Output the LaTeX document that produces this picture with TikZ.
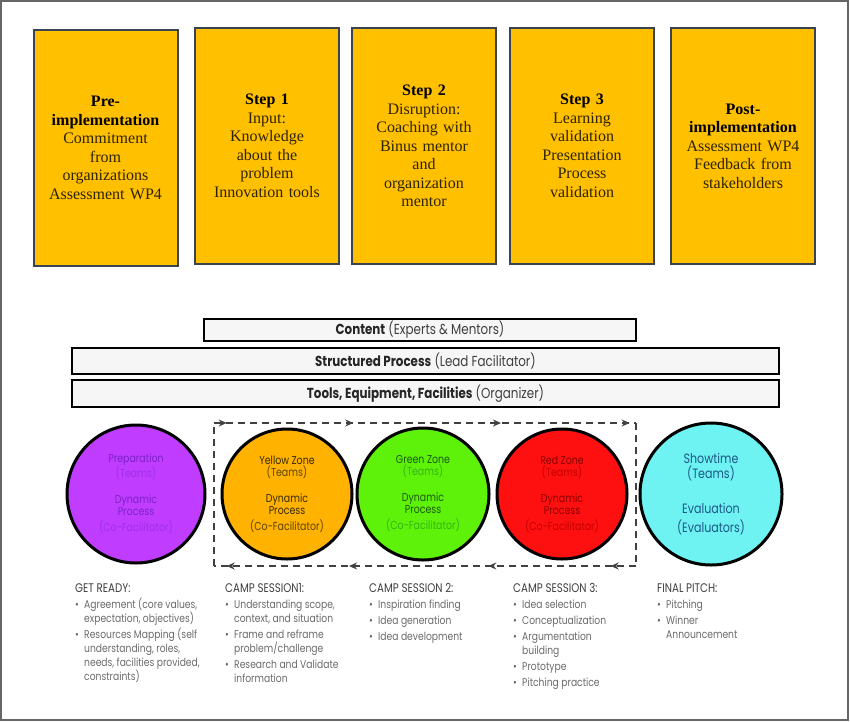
\documentclass[tikz,border=0pt]{standalone}
\usepackage{fontspec}
\setmainfont{Liberation Serif}
\newfontfamily\gothic[FakeStretch=0.82]{Poppins}
\usetikzlibrary{arrows.meta,decorations.markings}

\definecolor{stepfill}{HTML}{FFC000}
\definecolor{stepline}{HTML}{3A4450}
\definecolor{steptext}{HTML}{2E2300}
\definecolor{barfill}{HTML}{F6F6F6}
\definecolor{prepfill}{HTML}{C03CFF}
\definecolor{prepdark}{HTML}{7E22C8}
\definecolor{preplight}{HTML}{A030E6}
\definecolor{yelfill}{HTML}{FFB300}
\definecolor{yeldark}{HTML}{3A2A00}
\definecolor{yellight}{HTML}{5C4400}
\definecolor{grnfill}{HTML}{5EF20A}
\definecolor{grndark}{HTML}{1C5A0E}
\definecolor{grnlight}{HTML}{36B414}
\definecolor{redfill}{HTML}{FF1010}
\definecolor{reddark}{HTML}{8A0000}
\definecolor{redlight}{HTML}{C40000}
\definecolor{showfill}{HTML}{6EF2F2}
\definecolor{showtext}{HTML}{1E5888}
\definecolor{headgray}{HTML}{3E3E3E}
\definecolor{itemgray}{HTML}{6A6A6A}

\newcommand{\bul}[1]{\makebox[9pt][l]{\textbullet}#1}
\newcommand{\cnt}[1]{\hspace*{9pt}#1}

\begin{document}
\begin{tikzpicture}[x=1pt,y=-1pt,
    stepbox/.style={draw=stepline, line width=2pt, fill=stepfill, minimum width=144pt,
      minimum height=236pt, text width=142pt, align=center, inner sep=0pt,
      font=\fontsize{16}{18.5}\selectfont, text=steptext},
    bar/.style={draw=black, line width=2.2pt, fill=barfill, inner sep=0pt,
      font=\gothic\fontsize{14.5}{16}\selectfont, text=headgray},
    zone/.style={circle, draw=black, line width=3pt, inner sep=0pt, align=center,
      font=\gothic\fontsize{11.5}{12}\selectfont},
    listtxt/.style={anchor=north west, inner sep=0pt, align=left,
      font=\gothic\fontsize{11.2}{14}\selectfont, text=itemgray},
    loopline/.style={draw=black!75, line width=1.4pt, dash pattern=on 7pt off 5pt},
  ]
\useasboundingbox (0,0) rectangle (850,722);
\draw[black!60, line width=2pt] (1,1) rectangle (848,720);

% the five steps
\node[stepbox] (pre) at (105.5,148) {\textbf{\color{black}Pre-}\\\textbf{\color{black}implementation}\\Commitment\\from\\organizations\\Assessment WP4};
\node[stepbox] (s1) at (267,146) {\textbf{\color{black}Step 1}\\Input:\\Knowledge\\about the\\problem\\Innovation tools};
\node[stepbox] (s2) at (424,146) {\textbf{\color{black}Step 2}\\Disruption:\\Coaching with\\Binus mentor\\and\\organization\\mentor};
\node[stepbox] (s3) at (582,146) {\textbf{\color{black}Step 3}\\Learning\\validation\\Presentation\\Process\\validation};
\node[stepbox] (post) at (743,146) {\textbf{\color{black}Post-}\\\textbf{\color{black}implementation}\\Assessment WP4\\Feedback from\\stakeholders};

% supporting layers
\node[bar, minimum width=432pt, minimum height=22pt] (content) at (420,330) {\textbf{\color{black!85}Content} (Experts \& Mentors)};
\node[bar, minimum width=707pt, minimum height=26pt] (struct) at (425.5,361) {\textbf{\color{black!85}Structured Process} (Lead Facilitator)};
\node[bar, minimum width=707pt, minimum height=27pt] (tools) at (425.5,393.5) {\textbf{\color{black!85}Tools, Equipment, Facilities} (Organizer)};

% zones
\node[zone, fill=prepfill, minimum size=138pt] (prep) at (136,494) {\textcolor{prepdark}{Preparation}\\\textcolor{preplight}{(Teams)}\\[14pt]\textcolor{prepdark}{Dynamic}\\\textcolor{prepdark}{Process}\\[4pt]\textcolor{preplight}{(Co-Facilitator)}};
\node[zone, fill=yelfill, minimum size=130pt] (yellow) at (287,494) {\textcolor{yeldark}{Yellow Zone}\\\textcolor{yellight}{(Teams)}\\[14pt]\textcolor{yeldark}{Dynamic}\\\textcolor{yeldark}{Process}\\[4pt]\textcolor{yellight}{(Co-Facilitator)}};
\node[zone, fill=grnfill, minimum size=132pt] (green) at (423,494) {\textcolor{grndark}{Green Zone}\\\textcolor{grnlight}{(Teams)}\\[14pt]\textcolor{grndark}{Dynamic}\\\textcolor{grndark}{Process}\\[4pt]\textcolor{grnlight}{(Co-Facilitator)}};
\node[zone, fill=redfill, minimum size=130pt] (red) at (562,494) {\textcolor{reddark}{Red Zone}\\\textcolor{redlight}{(Teams)}\\[14pt]\textcolor{reddark}{Dynamic}\\\textcolor{reddark}{Process}\\[4pt]\textcolor{redlight}{(Co-Facilitator)}};
\node[zone, fill=showfill, minimum size=142pt, text=showtext, font=\gothic\fontsize{13.5}{15}\selectfont] (show) at (711,494) {Showtime\\(Teams)\\[20pt]Evaluation\\[4pt](Evaluators)};

% camp loop
\coordinate (lt) at (214,423);
\coordinate (rt) at (636,423);
\coordinate (rb) at (636,566);
\coordinate (lb) at (214,566);
\draw[loopline, postaction={decorate}, decoration={markings,
    mark=at position 0.03 with {\arrow[solid]{Stealth[length=8pt,width=7pt]}},
    mark=at position 0.33 with {\arrow[solid]{Stealth[length=8pt,width=7pt]}},
    mark=at position 0.68 with {\arrow[solid]{Stealth[length=8pt,width=7pt]}},
    mark=at position 0.985 with {\arrow[solid]{Stealth[length=8pt,width=7pt]}}}] (lt) -- (rt);
\draw[loopline] (rt) -- (rb);
\draw[loopline, postaction={decorate}, decoration={markings,
    mark=at position 0.06 with {\arrow[solid]{Stealth[length=8pt,width=7pt]}},
    mark=at position 0.35 with {\arrow[solid]{Stealth[length=8pt,width=7pt]}},
    mark=at position 0.68 with {\arrow[solid]{Stealth[length=8pt,width=7pt]}},
    mark=at position 0.97 with {\arrow[solid]{Stealth[length=8pt,width=7pt]}}}] (rb) -- (lb);
\draw[loopline] (lb) -- (lt);

% activities
\node[listtxt] (ready) at (75,583) {\textcolor{headgray}{\fontsize{12.5}{14}\selectfont GET READY:}\\[2pt]
  \bul{Agreement (core values,}\\\cnt{expectation, objectives)}\\[2pt]
  \bul{Resources Mapping (self}\\\cnt{understanding, roles,}\\\cnt{needs, facilities provided,}\\\cnt{constraints)}};
\node[listtxt] (camp1) at (225,583) {\textcolor{headgray}{\fontsize{12.5}{14}\selectfont CAMP SESSION1:}\\[2pt]
  \bul{Understanding scope,}\\\cnt{context, and situation}\\[2pt]
  \bul{Frame and reframe}\\\cnt{problem/challenge}\\[2pt]
  \bul{Research and Validate}\\\cnt{information}};
\node[listtxt] (camp2) at (369,583) {\textcolor{headgray}{\fontsize{12.5}{14}\selectfont CAMP SESSION 2:}\\[2pt]
  \bul{Inspiration finding}\\[2pt]\bul{Idea generation}\\[2pt]\bul{Idea development}};
\node[listtxt] (camp3) at (513,583) {\textcolor{headgray}{\fontsize{12.5}{14}\selectfont CAMP SESSION 3:}\\[2pt]
  \bul{Idea selection}\\[2pt]\bul{Conceptualization}\\[2pt]
  \bul{Argumentation}\\\cnt{building}\\[2pt]\bul{Prototype}\\[2pt]\bul{Pitching practice}};
\node[listtxt] (final) at (657,583) {\textcolor{headgray}{\fontsize{12.5}{14}\selectfont FINAL PITCH:}\\[2pt]
  \bul{Pitching}\\[2pt]\bul{Winner}\\\cnt{Announcement}};
\end{tikzpicture}
\end{document}
